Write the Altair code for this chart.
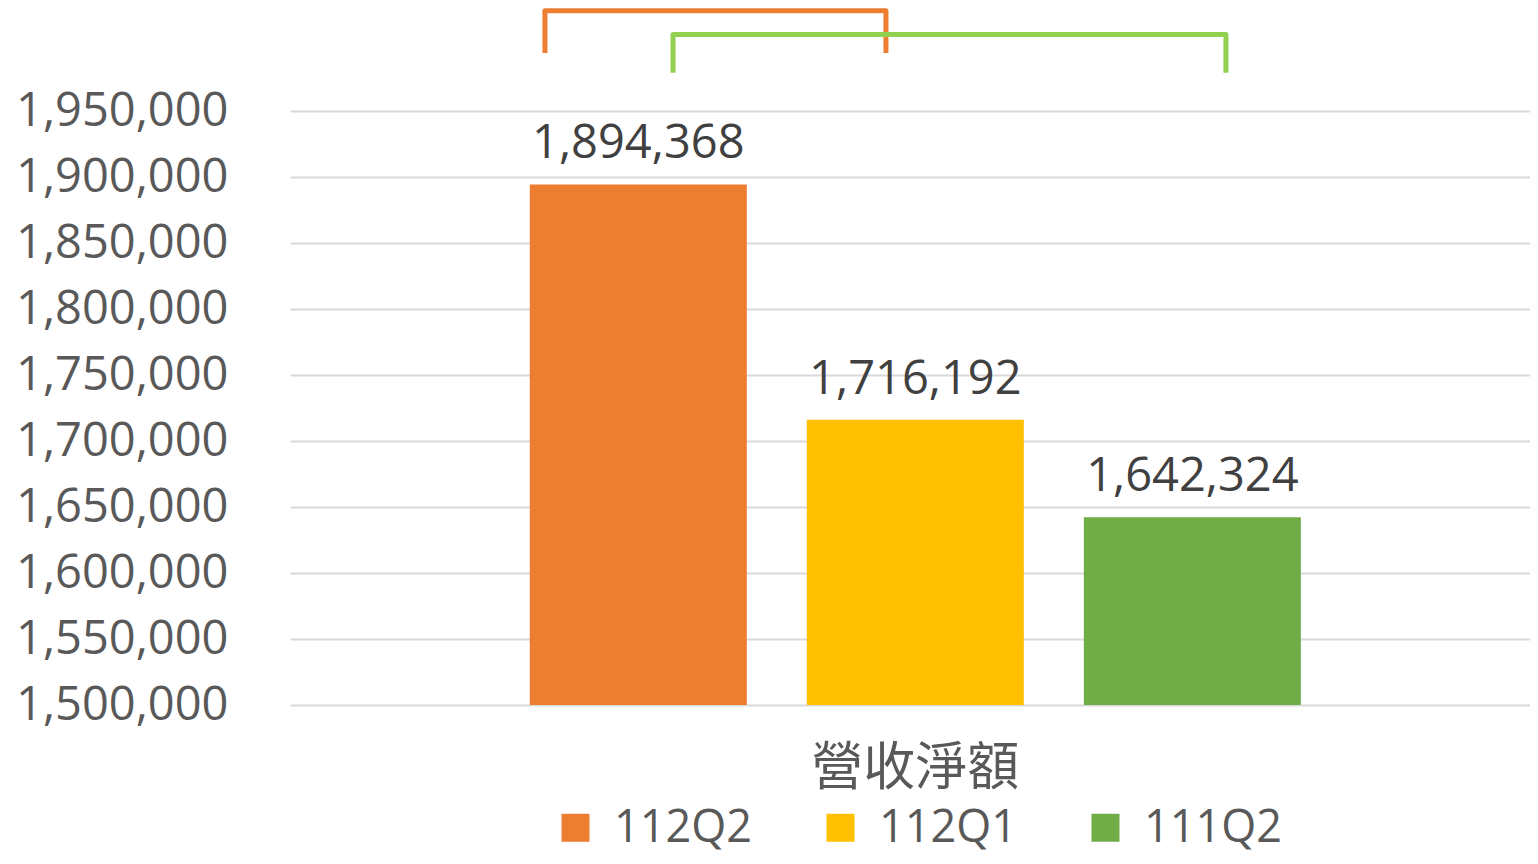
import altair as alt
import pandas as pd

# --- data ---
series = ["112Q2", "112Q1", "111Q2"]
values = [1894368, 1716192, 1642324]
colors = ["#ED7D31", "#FFC000", "#70AD47"]
category = "營收淨額"
y_ticks = [1500000, 1550000, 1600000, 1650000, 1700000, 1750000,
           1800000, 1850000, 1900000, 1950000]

# comparison brackets drawn above the bars (fraction of plot width, value units)
bracket_name = ["A", "A", "A", "A", "B", "B", "B", "B"]
bracket_x = [0.2056, 0.2056, 0.4806, 0.4806, 0.3089, 0.3089, 0.7548, 0.7548]
bracket_y = [1994000, 2026000, 2026000, 1994000, 1979000, 2008000, 2008000, 1979000]
bracket_ord = [0, 1, 2, 3, 0, 1, 2, 3]
bracket_colors = ["#ED7D31", "#92D050"]

df = pd.DataFrame({"category": [category] * 3, "series": series, "value": values})
bdf = pd.DataFrame({"name": bracket_name, "bx": bracket_x, "value": bracket_y, "ord": bracket_ord})

FONT = "Open Sans"
yscale = alt.Scale(domain=[1500000, 1950000], nice=False, zero=False)

x_enc = alt.X("category:N", title=None,
              scale=alt.Scale(paddingOuter=0.246, paddingInner=0, align=0.513),
              axis=alt.Axis(labelAngle=0, domain=False, ticks=False, labelFontSize=52,
                            labelFont="Noto Sans CJK TC", labelColor="#595959",
                            labelPadding=38, labelLimit=0))
xo_enc = alt.XOffset("series:N", sort=series,
                     scale=alt.Scale(paddingInner=0.2166, paddingOuter=0.1083))
y_axis = alt.Axis(values=y_ticks, format=",d", domain=False, ticks=False,
                  labelFontSize=47, labelFont=FONT, labelColor="#595959",
                  labelPadding=62, labelLimit=0, gridColor="#D9D9D9", gridWidth=2)
y_enc = alt.Y("value:Q", scale=yscale, title=None, axis=y_axis)

bars = alt.Chart(df).mark_bar(clip=True).encode(
    x=x_enc, xOffset=xo_enc, y=y_enc,
    color=alt.Color("series:N", sort=series,
                    scale=alt.Scale(domain=series, range=colors),
                    legend=alt.Legend(title=None, orient="none", legendX=263, legendY=694,
                                      direction="horizontal", symbolType="square",
                                      symbolSize=784, symbolStrokeWidth=0,
                                      labelFontSize=45, labelFont=FONT,
                                      labelColor="#595959", columnPadding=66,
                                      labelOffset=16, padding=0))
)

labels = alt.Chart(df).mark_text(fontSize=47, font=FONT, color="#404040",
                                 baseline="alphabetic", dy=-26).encode(
    x=x_enc, xOffset=xo_enc, y=y_enc,
    text=alt.Text("value:Q", format=",")
)

main = alt.layer(bars, labels)

brackets = alt.Chart(bdf).mark_line(strokeWidth=5, strokeJoin="round", clip=False).encode(
    x=alt.X("bx:Q", scale=alt.Scale(domain=[0, 1], nice=False, zero=False), axis=None),
    y=y_enc,
    detail="name:N",
    order="ord:Q",
    color=alt.Color("name:N", scale=alt.Scale(domain=["A", "B"], range=bracket_colors),
                    legend=None)
)

chart = alt.layer(main, brackets).resolve_scale(
    x="independent", color="independent"
).properties(
    width=1240, height=594,
    autosize=alt.AutoSizeParams(type="none"),
    padding={"left": 282, "top": 103, "right": 0, "bottom": 151}
).configure_view(stroke=None)

chart.save("out.html", embed_options={"renderer": "svg", "actions": False})
